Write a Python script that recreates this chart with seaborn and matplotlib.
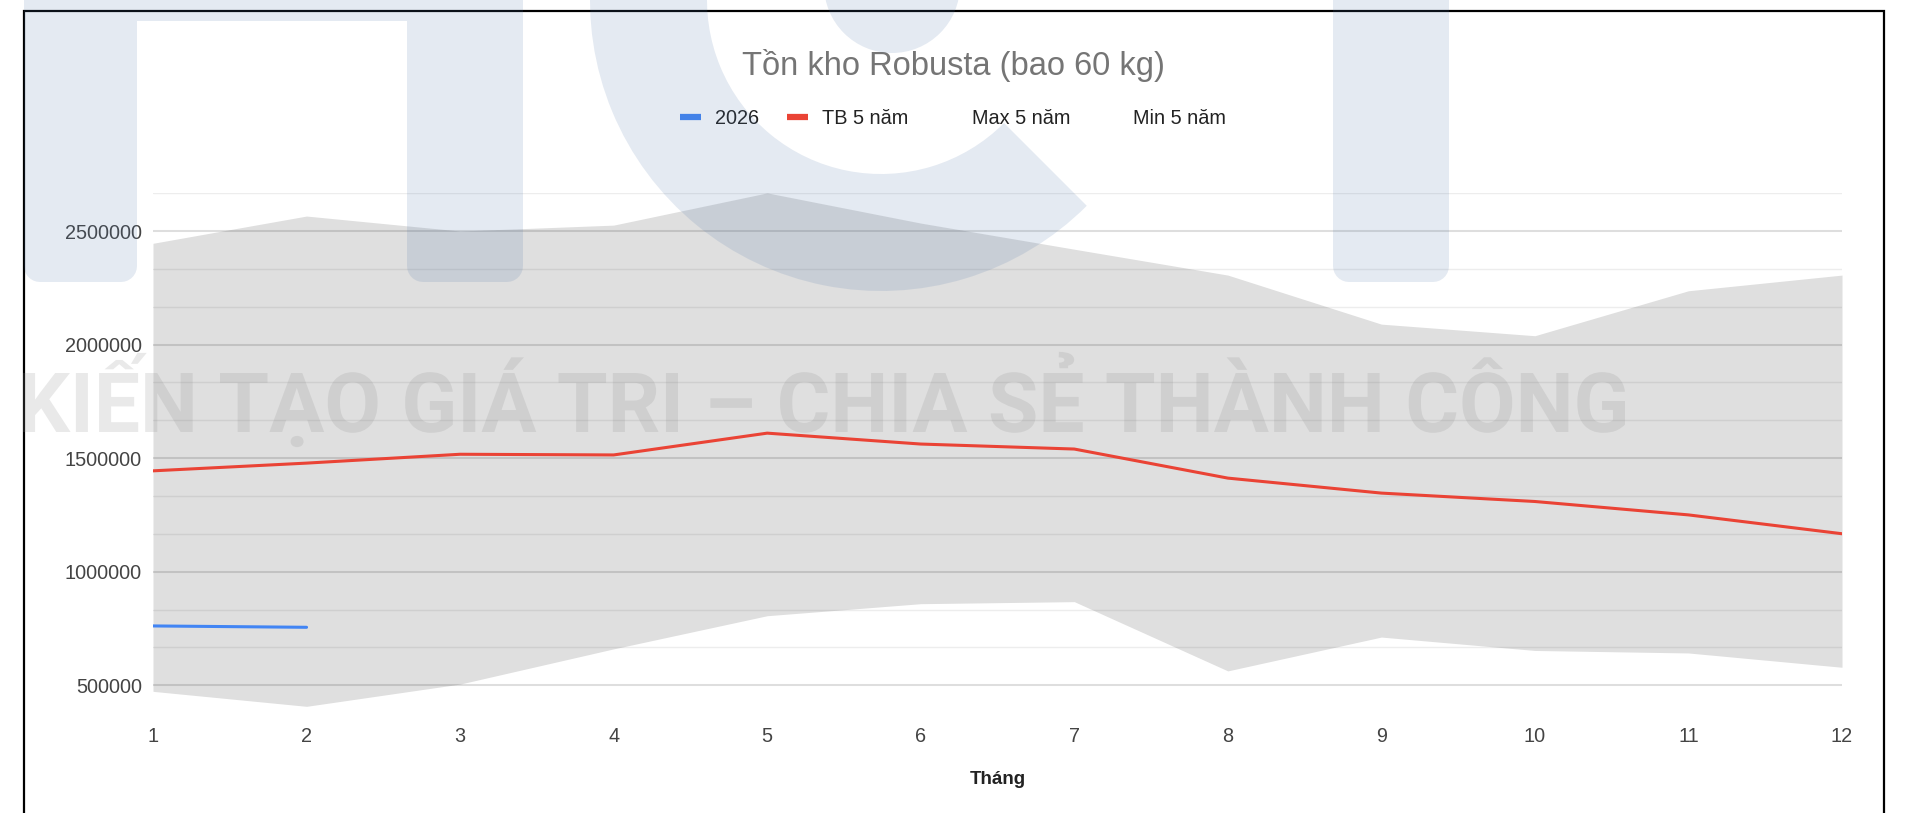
import numpy as np
import pandas as pd
import seaborn as sns
import matplotlib.pyplot as plt
from matplotlib.lines import Line2D
from matplotlib.patches import Polygon, Wedge, Circle, PathPatch, Rectangle
from matplotlib.textpath import TextPath
from matplotlib.font_manager import FontProperties
from matplotlib.transforms import Affine2D, IdentityTransform
from matplotlib.ticker import MultipleLocator

# ---- data ----
months = list(range(1, 13))
tb_5y = [1444000, 1478000, 1517000, 1514000, 1610000, 1562000,
         1540000, 1412000, 1346000, 1309000, 1250000, 1167000]
max_5y = [2446000, 2566000, 2500000, 2526000, 2668000, 2535000,
          2420000, 2306000, 2090000, 2039000, 2237000, 2306000]
min_5y = [473000, 407000, 505000, 660000, 806000, 859000,
          868000, 563000, 712000, 653000, 642000, 579000]
months_2026 = [1, 2]
val_2026 = [761000, 755000]

y_ticks = [500000, 1000000, 1500000, 2000000, 2500000]
legend_labels = ["2026", "TB 5 năm", "Max 5 năm", "Min 5 năm"]
title = "Tồn kho Robusta (bao 60 kg)"
x_title = "Tháng"
watermark = "KIẾN TẠO GIÁ TRI – CHIA SẺ THÀNH CÔNG"

BLUE = "#4285F4"
RED = "#EA4335"
BAND = "#dfdfdf"

sns.set_theme(style="white")
plt.rcParams["font.family"] = ["Liberation Sans", "DejaVu Sans"]

W, H = 1906, 813
fig = plt.figure(figsize=(W / 100, H / 100), dpi=100)


def fx(x):
    return x / W


def fy(y):
    return 1 - y / H


# plot area in pixels: x 153..1842, y 193..717
ax = fig.add_axes([fx(153), fy(717), fx(1842) - fx(153), fy(193) - fy(717)])

df = pd.DataFrame({"month": months, "tb": tb_5y, "mx": max_5y, "mn": min_5y})
d26 = pd.DataFrame({"month": months_2026, "val": val_2026})

ax.fill_between(df["month"], df["mn"], df["mx"], color=BAND, lw=0, zorder=1)
sns.lineplot(data=df, x="month", y="tb", color=RED, lw=2.2, ax=ax, zorder=3)
sns.lineplot(data=d26, x="month", y="val", color=BLUE, lw=2.2, ax=ax, zorder=3)

ax.set_xlim(1, 12)
ax.set_ylim(360000, 2667500)
ax.set_xticks(months)
ax.set_yticks(y_ticks)
ax.set_yticklabels([str(v) for v in y_ticks])
ax.yaxis.set_minor_locator(MultipleLocator(500000 / 3))
ax.set_axisbelow(False)
ax.grid(which="major", axis="y", color="black", alpha=0.13, lw=1.5)
ax.grid(which="minor", axis="y", color="black", alpha=0.07, lw=1.0)
ax.grid(which="major", axis="x", visible=False)
for s in ax.spines.values():
    s.set_visible(False)
ax.tick_params(axis="both", which="both", length=0, labelsize=14.3,
               labelcolor="#444444")
ax.tick_params(axis="x", pad=7.5)
ax.tick_params(axis="y", pad=8)
ax.set_ylabel("")
ax.set_xlabel(x_title, fontsize=13.5, fontweight="bold", color="#222222")
ax.xaxis.set_label_coords(0.5, (717 - 779) / (717 - 193))
ax.xaxis.label.set_va("center")

# title and legend
fig.text(fx(953), fy(75), title, ha="center", va="baseline",
         fontsize=23.5, color="#757575")
handles = [
    Line2D([], [], color=BLUE, lw=4.5, solid_capstyle="butt"),
    Line2D([], [], color=RED, lw=4.5, solid_capstyle="butt"),
    Line2D([], [], color="none", lw=4.5),
    Line2D([], [], color="none", lw=4.5),
]
fig.legend(handles, legend_labels, loc="center", bbox_to_anchor=(fx(953), fy(118)),
           ncol=4, frameon=False, fontsize=14.3, handlelength=1.05,
           handletextpad=0.72, columnspacing=1.4, labelcolor="#222222")

# screenshot frame
fig.patches.append(Rectangle((24, -20), 1884 - 24, H - 11 + 20, fill=False,
                             ec="black", lw=1.6, transform=IdentityTransform(),
                             figure=fig, zorder=10))

# logo watermark (pixel coords, y measured from top)
logo_kw = dict(fc="#4B73A8", ec="none", alpha=0.15, transform=IdentityTransform(),
               figure=fig, zorder=20)


def leg(x0, x1, y_top, y_bot, r=16):
    # bar with rounded bottom corners, points in image coords
    t = np.linspace(0, np.pi / 2, 8)
    right = [(x1 - r + r * np.sin(a), y_bot - r + r * np.cos(a)) for a in t[::-1]]
    left = [(x0 + r - r * np.sin(a), y_bot - r + r * np.cos(a)) for a in t]
    return [(x1, y_top)] + right[::-1][::-1] + left + [(x0, y_top)]


def P(pts):
    return [(x, H - y) for x, y in pts]


pi_shape = ([(24, -5), (523, -5)] + leg(407, 523, 21, 282)[:-1] + [(407, 21), (137, 21)]
            + leg(24, 137, 21, 282)[1:])
fig.patches.append(Polygon(P(pi_shape), **logo_kw))
fig.patches.append(Polygon(P(leg(1333, 1449, -5, 282)), **logo_kw))
fig.patches.append(Wedge((881, H), 291, 90, 315, width=117, **logo_kw))
fig.patches.append(Circle((892, H + 15), 68, **logo_kw))

# slogan watermark
fp = FontProperties(family="Roboto", weight="bold")
tp = TextPath((0, 0), watermark, size=100, prop=fp)
ext = tp.get_extents()
cap = TextPath((0, 0), "H", size=100, prop=fp).get_extents().height
sx = (1625 - 23) / ext.width
sy = 59 / cap
path = Affine2D().translate(-ext.x0, 0).scale(sx, sy).translate(23, H - 432).transform_path(tp)
fig.patches.append(PathPatch(path, fc="#8c8c8c", ec="none", alpha=0.19,
                             transform=IdentityTransform(), figure=fig, zorder=21))

fig.savefig("out.png", dpi=100)
